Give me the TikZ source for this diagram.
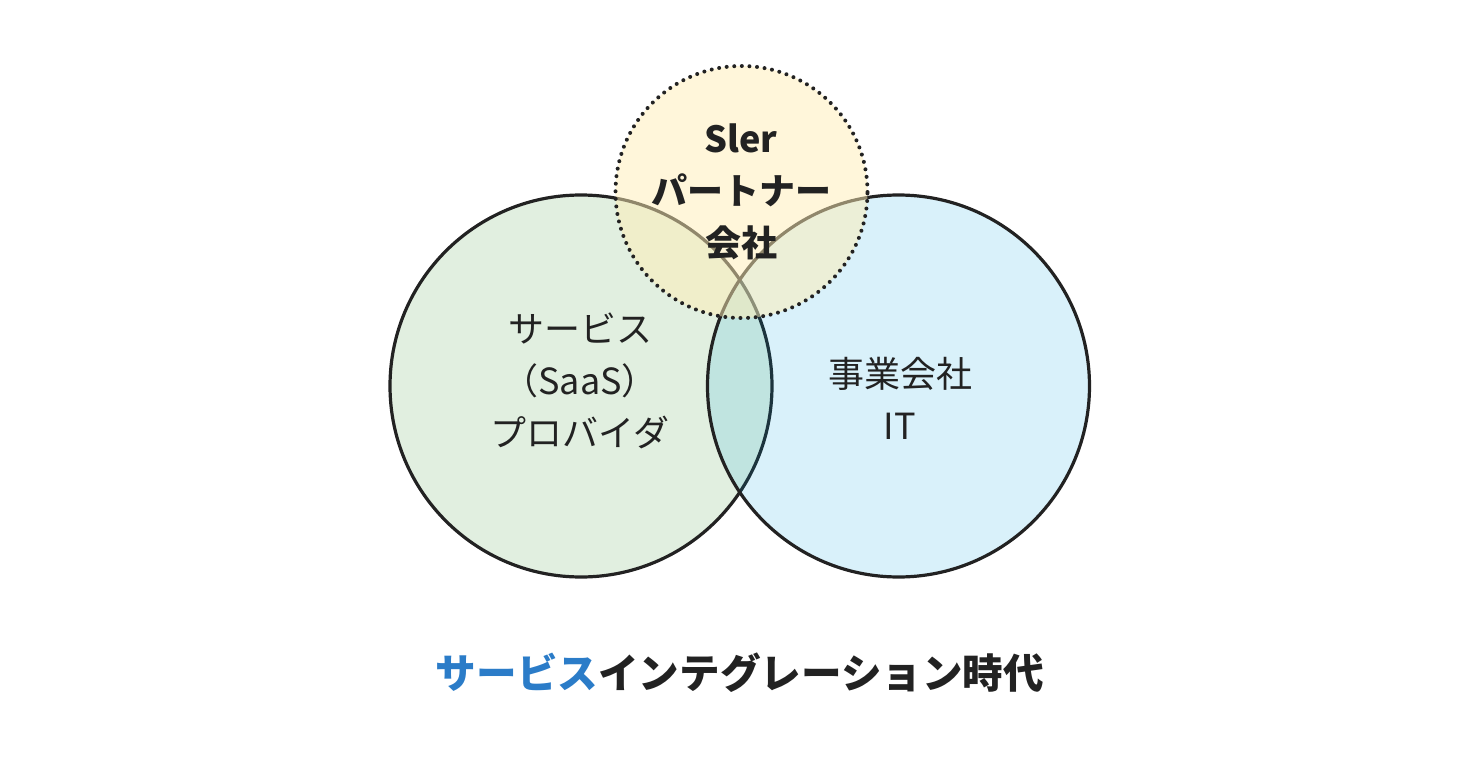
\documentclass[tikz,border=0pt]{standalone}
\usepackage{fontspec}
\setmainfont{Noto Sans CJK JP}
\usetikzlibrary{positioning}
\definecolor{vGreen}{HTML}{379430}
\definecolor{vBlue}{HTML}{00A1DD}
\definecolor{vYellow}{HTML}{FFEDB5}
\definecolor{vInk}{HTML}{222222}
\definecolor{vAccent}{HTML}{2B7CC8}
\tikzset{
  vset/.style={draw=vInk, circle, line width=1.6pt, inner sep=0pt,
               minimum size=191pt, fill opacity=0.15, draw opacity=1},
  vtop/.style={draw=vInk, circle, line width=2pt, inner sep=0pt,
               minimum size=126pt, fill=vYellow, fill opacity=0.5,
               draw opacity=1, dash pattern=on 0pt off 3.8pt, line cap=round},
  vlabel/.style={align=center, text=vInk, font=\fontsize{18}{26}\selectfont},
  vlabelb/.style={vlabel, font=\fontsize{18}{26}\selectfont\bfseries},
}

\begin{document}
\begin{tikzpicture}[x=0.5pt, y=-0.5pt]
    \path[use as bounding box] (0,0) rectangle (1480,765);
    % the three sets
    \node[vset, fill=vGreen] (saas) at (581,386) {};
    \node[vset, fill=vBlue] (jigyo) at (898.5,386) {};
    \node[vtop] (sier) at (741.5,192) {};
    % texts
    \node[vlabelb] (sierT) at (741,192) {Sler\\パートナー\\会社};
    \node[vlabel] (saasT) at (580,381) {サービス\\（SaaS）\\プロバイダ};
    \node[vlabel] (jigyoT) at (900,398) {事業会社\\IT};
    \node[text=vInk, font=\fontsize{20.3}{24}\selectfont\bfseries] (title) at (740,673)
      {\textcolor{vAccent}{サービス}インテグレーション時代};
  \end{tikzpicture}
\end{document}
